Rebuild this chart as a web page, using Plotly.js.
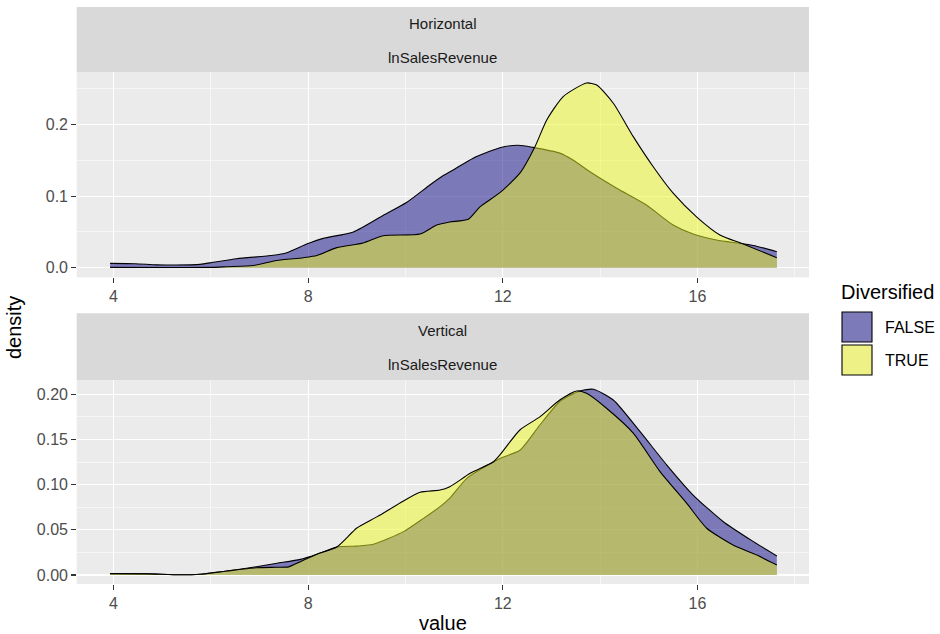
<!DOCTYPE html>
<html>
<head>
<meta charset="utf-8">
<script src="https://cdn.plot.ly/plotly-3.0.1.min.js"></script>
<style>html,body{margin:0;padding:0;background:#fff;}#chart{width:940px;height:634px;}</style>
</head>
<body>
<div id="chart"></div>
<script>
// ---- data ----
const facets = ["Horizontal", "Vertical"];
const variableName = "lnSalesRevenue";
const groups = ["FALSE", "TRUE"];
const legendTitle = "Diversified";
const xTicks = [4, 8, 12, 16];
const xMinor = [2, 6, 10, 14, 18];
const yTicksTop = [0, 0.1, 0.2];
const yTickTextTop = ["0.0", "0.1", "0.2"];
const yMinorTop = [0.05, 0.15, 0.25];
const yTicksBot = [0, 0.05, 0.10, 0.15, 0.20];
const yTickTextBot = ["0.00", "0.05", "0.10", "0.15", "0.20"];
const yMinorBot = [0.025, 0.075, 0.125, 0.175, 0.225];

// Horizontal, FALSE
const horizFalseX = [3.93,4.44,4.89,5.3,5.78,6.05,6.53,7.28,7.56,7.97,8.31,8.93,9.54,10.02,10.5,10.74,10.98,11.39,11.94,12.32,12.62,13.17,13.45,13.79,14.34,14.95,15.5,15.91,16.39,16.87,17.15,17.63];
const horizFalseY = [0.006,0.0056,0.004,0.0038,0.0047,0.0075,0.0126,0.0173,0.021,0.033,0.041,0.050,0.073,0.091,0.1155,0.127,0.1365,0.153,0.1676,0.171,0.168,0.160,0.150,0.134,0.111,0.0876,0.0596,0.047,0.0387,0.034,0.031,0.0224];
// Horizontal, TRUE
const horizTrueX = [3.93,5.0,6.05,6.33,6.87,7.35,7.9,8.18,8.59,9.13,9.54,10.3,10.64,10.91,11.29,11.53,11.94,12.35,12.66,12.9,13.24,13.72,13.93,14.27,14.68,15.09,15.5,15.98,16.46,16.94,17.63];
const horizTrueY = [0.0005,0.0003,0.0005,0.0014,0.003,0.010,0.014,0.017,0.028,0.0345,0.0447,0.047,0.0596,0.0638,0.0676,0.085,0.1048,0.132,0.169,0.206,0.239,0.258,0.255,0.2296,0.183,0.141,0.104,0.071,0.0457,0.033,0.014];
// Vertical, FALSE
const vertFalseX = [3.93,4.7,5.37,5.78,6.33,6.94,7.36,7.84,8.18,8.59,9.0,9.34,9.96,10.37,10.71,10.91,11.26,11.94,12.35,12.76,13.17,13.58,13.86,14.27,14.82,15.37,15.91,16.53,17.15,17.63];
const vertFalseY = [0.0015,0.0012,0.0002,0.0008,0.0044,0.0092,0.013,0.0173,0.023,0.031,0.032,0.034,0.048,0.0627,0.0756,0.085,0.107,0.129,0.138,0.166,0.192,0.2037,0.2055,0.1937,0.1586,0.1217,0.0885,0.059,0.0369,0.021];
// Vertical, TRUE
const vertTrueX = [3.93,4.7,5.37,5.78,6.33,6.94,7.36,7.6,7.84,8.18,8.59,9.0,9.42,9.96,10.3,10.71,10.91,11.33,11.8,11.94,12.35,12.76,13.17,13.52,13.72,14.13,14.68,15.23,15.78,16.19,16.74,17.22,17.63];
const vertTrueY = [0.0015,0.0012,0.0002,0.0008,0.0044,0.008,0.0085,0.009,0.0148,0.023,0.031,0.052,0.0646,0.082,0.0915,0.094,0.0977,0.1125,0.125,0.133,0.1605,0.175,0.1937,0.2037,0.201,0.1845,0.157,0.1144,0.0793,0.0517,0.033,0.022,0.011];

// ---- styling ----
const FONT = "Liberation Sans, Arial, sans-serif";
const fillFalse = "rgba(13,8,135,0.5)";
const fillTrue = "rgba(240,249,33,0.5)";
const keyFalse = "#7C7AB9";
const keyTrue = "#EEF286";
const W = 940, H = 634;
const px = v => v / W;
const py = v => (H - v) / H;

function dens(x, y, color, xa, ya, name) {
  return {
    type: "scatter", mode: "lines", x: x, y: y, name: name,
    xaxis: xa, yaxis: ya, fill: "tozeroy", fillcolor: color,
    line: {color: "black", width: 1.1, shape: "spline", smoothing: 0.6},
    showlegend: false, hoverinfo: "skip"
  };
}

const data = [
  dens(horizFalseX, horizFalseY, fillFalse, "x", "y", groups[0]),
  dens(horizTrueX, horizTrueY, fillTrue, "x", "y", groups[1]),
  dens(vertFalseX, vertFalseY, fillFalse, "x2", "y2", groups[0]),
  dens(vertTrueX, vertTrueY, fillTrue, "x2", "y2", groups[1])
];

const xDomain = [px(76.7), px(809)];
const xRange = [3.244, 18.291];
const tickFont = {family: FONT, size: 16, color: "#4D4D4D"};

function xAxis(anchor) {
  return {
    domain: xDomain, anchor: anchor, range: xRange,
    tickmode: "array", tickvals: xTicks, ticks: "outside", ticklen: 4.5,
    tickcolor: "#333333", tickwidth: 1.1, tickfont: tickFont,
    showgrid: true, gridcolor: "#FFFFFF", gridwidth: 1.2,
    minor: {tickmode: "array", tickvals: xMinor, showgrid: true, gridcolor: "#FFFFFF", gridwidth: 0.55, ticks: ""},
    zeroline: false, showline: false, fixedrange: true
  };
}
function yAxis(anchor, dom, rng, tv, tt, mn) {
  return {
    domain: dom, anchor: anchor, range: rng,
    tickmode: "array", tickvals: tv, ticktext: tt, ticks: "outside", ticklen: 4.5,
    tickcolor: "#333333", tickwidth: 1.1, tickfont: tickFont,
    showgrid: true, gridcolor: "#FFFFFF", gridwidth: 1.2,
    minor: {tickmode: "array", tickvals: mn, showgrid: true, gridcolor: "#FFFFFF", gridwidth: 0.55, ticks: ""},
    zeroline: false, showline: false, fixedrange: true
  };
}

const shapes = [
  // strips
  {type: "rect", xref: "paper", yref: "paper", x0: xDomain[0], x1: xDomain[1], y0: py(72), y1: py(7), fillcolor: "#D9D9D9", line: {width: 0}, layer: "below"},
  {type: "rect", xref: "paper", yref: "paper", x0: xDomain[0], x1: xDomain[1], y0: py(380), y1: py(313.3), fillcolor: "#D9D9D9", line: {width: 0}, layer: "below"},
  // legend keys
  {type: "rect", xref: "paper", yref: "paper", x0: px(842), x1: px(872), y0: py(342), y1: py(312), fillcolor: keyFalse, line: {color: "black", width: 1.1}},
  {type: "rect", xref: "paper", yref: "paper", x0: px(842), x1: px(872), y0: py(375), y1: py(345), fillcolor: keyTrue, line: {color: "black", width: 1.1}}
];

const stripFont = {family: FONT, size: 15, color: "#1A1A1A"};
function ann(text, x, y, font, extra) {
  return Object.assign({text: text, x: x, y: y, xref: "paper", yref: "paper", showarrow: false, font: font, xanchor: "center", yanchor: "middle"}, extra || {});
}
const xc = (xDomain[0] + xDomain[1]) / 2;
const annotations = [
  ann(facets[0], xc, py(23.5), stripFont),
  ann(variableName, xc, py(57), stripFont),
  ann(facets[1], xc, py(330.5), stripFont),
  ann(variableName, xc, py(364), stripFont),
  ann("value", xc, py(623), {family: FONT, size: 20, color: "#000000"}),
  ann("density", px(14), py(328), {family: FONT, size: 20, color: "#000000"}, {textangle: -90}),
  ann(legendTitle, px(839), py(292), {family: FONT, size: 20, color: "#000000"}, {xanchor: "left"}),
  ann(groups[0], px(883), py(327), {family: FONT, size: 16, color: "#000000"}, {xanchor: "left"}),
  ann(groups[1], px(883), py(360), {family: FONT, size: 16, color: "#000000"}, {xanchor: "left"})
];

const layout = {
  width: W, height: H,
  margin: {l: 0, r: 0, t: 0, b: 0, pad: 0},
  paper_bgcolor: "#FFFFFF", plot_bgcolor: "#EBEBEB",
  font: {family: FONT},
  showlegend: false,
  xaxis: xAxis("y"),
  yaxis: yAxis("x", [py(277.3), py(72)], [-0.0134, 0.2733], yTicksTop, yTickTextTop, yMinorTop),
  xaxis2: xAxis("y2"),
  yaxis2: yAxis("x2", [py(584), py(380)], [-0.00996, 0.2158], yTicksBot, yTickTextBot, yMinorBot),
  shapes: shapes,
  annotations: annotations
};

Plotly.newPlot("chart", data, layout, {staticPlot: true, displayModeBar: false});
</script>
</body>
</html>
